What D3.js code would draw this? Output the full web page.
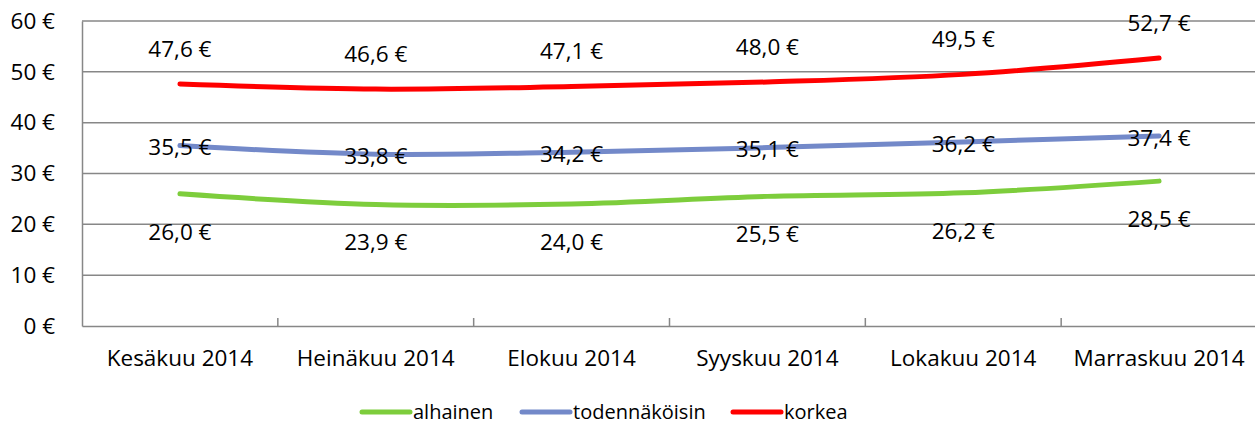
<!DOCTYPE html>
<html>
<head>
<meta charset="utf-8">
<script src="https://cdn.jsdelivr.net/npm/d3@7"></script>
<style>
  body { margin: 0; background: #fff; }
  text { font-family: "Open Sans", Lato, sans-serif; fill: #000; }
</style>
</head>
<body>
<svg id="chart" width="1255" height="427"></svg>
<script>
// data
var months = ["Kesäkuu 2014", "Heinäkuu 2014", "Elokuu 2014", "Syyskuu 2014", "Lokakuu 2014", "Marraskuu 2014"];
var alhainen = [26.0, 23.9, 24.0, 25.5, 26.2, 28.5];
var todennakoisin = [35.5, 33.8, 34.2, 35.1, 36.2, 37.4];
var korkea = [47.6, 46.6, 47.1, 48.0, 49.5, 52.7];
var yTicks = [0, 10, 20, 30, 40, 50, 60];

var series = [
    {name: "alhainen", values: alhainen, color: "#7dcd3c", labelDy: 38},
    {name: "todennäköisin", values: todennakoisin, color: "#7389c9", labelDy: 2},
    {name: "korkea", values: korkea, color: "#ff0000", labelDy: -35}
];

var plotLeft = 82, plotRight = 1257, plotTop = 21, plotBottom = 326;
var fontSize = "22.5px";
var svg = d3.select("#chart");

var x = d3.scaleBand().domain(months).range([plotLeft, plotRight]);
var y = d3.scaleLinear().domain([0, 60]).range([plotBottom, plotTop]);

// gridlines
svg.append("g").selectAll("line")
    .data(yTicks.filter(d => d > 0))
    .join("line")
    .attr("x1", plotLeft).attr("x2", plotRight)
    .attr("y1", d => y(d)).attr("y2", d => y(d))
    .attr("stroke", "#878787").attr("stroke-width", 1.5);

// y axis
var yAxis = svg.append("g")
    .attr("transform", "translate(" + plotLeft + ",0)")
    .call(d3.axisLeft(y).tickValues(yTicks).tickSize(0).tickPadding(27).tickFormat(d => d + " €"));
yAxis.select(".domain").attr("stroke", "#878787").attr("stroke-width", 1.5);
yAxis.selectAll("text").style("font-size", fontSize).attr("fill", "#000");

// x axis
var xAxis = svg.append("g")
    .attr("transform", "translate(0," + plotBottom + ")")
    .call(d3.axisBottom(x).tickSize(0).tickPadding(24));
xAxis.select(".domain").attr("stroke", "#878787").attr("stroke-width", 1.5);
xAxis.selectAll("text").style("font-size", fontSize).attr("fill", "#000");
svg.selectAll(".tick text").style("font-family", "'Open Sans', Lato, sans-serif");

// category separators
svg.append("g").selectAll("line")
    .data(months.slice(1))
    .join("line")
    .attr("x1", d => x(d)).attr("x2", d => x(d))
    .attr("y1", plotBottom).attr("y2", plotBottom - 8)
    .attr("stroke", "#878787").attr("stroke-width", 1.5);

var line = d3.line()
    .x((d, i) => x(months[i]) + x.bandwidth() / 2)
    .y(d => y(d))
    .curve(d3.curveCatmullRom.alpha(0.5));

series.forEach(function(s) {
    svg.append("path")
        .datum(s.values)
        .attr("d", line)
        .attr("fill", "none")
        .attr("stroke", s.color)
        .attr("stroke-width", 5)
        .attr("stroke-linecap", "round");
});

var fmt = d => d3.format(".1f")(d).replace(".", ",") + " €";
series.forEach(function(s) {
    svg.append("g").selectAll("text")
        .data(s.values)
        .join("text")
        .attr("x", (d, i) => x(months[i]) + x.bandwidth() / 2)
        .attr("y", d => y(d) + s.labelDy)
        .attr("dy", "0.35em")
        .attr("text-anchor", "middle")
        .style("font-size", fontSize)
        .text(fmt);
});

// legend
var legendX = [362, 522, 733];
var legend = svg.append("g").selectAll("g")
    .data(series)
    .join("g")
    .attr("transform", (d, i) => "translate(" + legendX[i] + ",412)");
legend.append("line")
    .attr("x1", 0).attr("x2", 48)
    .attr("stroke", d => d.color)
    .attr("stroke-width", 5)
    .attr("stroke-linecap", "round");
legend.append("text")
    .attr("x", 51)
    .attr("dy", "0.35em")
    .style("font-size", "20px")
    .text(d => d.name);
</script>
</body>
</html>
